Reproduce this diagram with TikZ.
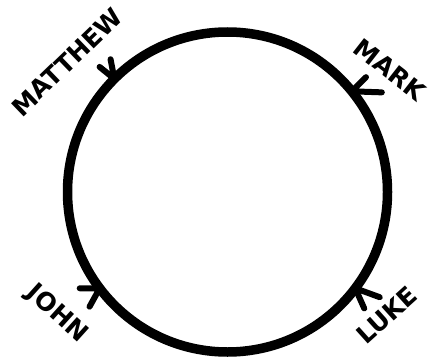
\documentclass[tikz,border=0pt]{standalone}
\usepackage{fontspec}
\setsansfont{DejaVu Sans}
\usetikzlibrary{positioning}

\begin{document}
\begin{tikzpicture}[
    x=1pt, y=1pt,
    every node/.style={font=\sffamily\bfseries\fontsize{25}{25}\selectfont, inner sep=0pt},
    chev/.style={line width=6pt, line cap=round, line join=round},
  ]
  \useasboundingbox (0,0) rectangle (438,362);

  % The ring
  \node (ring) [circle, draw, line width=9.5pt, outer sep=0pt, minimum size=320pt] at (227.5,170) {};

  % Names round the ring
  \node[rotate=44]  (matthew) at (67,300)   {MATTHEW};
  \node[rotate=-38] (mark)    at (390,292)  {MARK};
  \node[rotate=-42] (john)    at (57,48)    {JOHN};
  \node[rotate=42]  (luke)    at (387,47)   {LUKE};

  % Chevrons on the ring
  \draw[chev] (ring.135) ++(141:19) -- (ring.135) -- ++(101:20);
  \draw[chev] (ring.39)  ++(-2:30)  -- (ring.39)  -- ++(45:20);
  \draw[chev] (ring.217) ++(180:20) -- (ring.217) -- ++(241:21);
  \draw[chev] (ring.323) ++(-20:26) -- (ring.323) -- ++(-66:22);

\end{tikzpicture}
\end{document}
